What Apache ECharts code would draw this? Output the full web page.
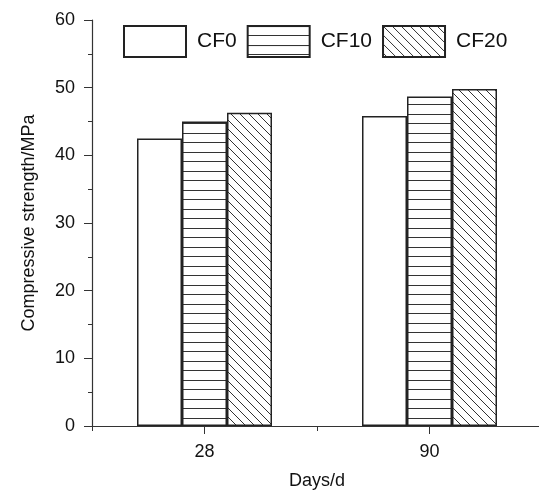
<!DOCTYPE html>
<html>
<head>
<meta charset="utf-8">
<script src="https://cdn.jsdelivr.net/npm/echarts@6/dist/echarts.min.js"></script>
<style>
  html, body { margin: 0; padding: 0; background: #fff; }
  #chart { width: 539px; height: 490px; }
</style>
</head>
<body>
<div id="chart"></div>
<script>
var categories = ['28', '90']
var seriesNames = ['CF0', 'CF10', 'CF20']
var cf0 = [42.5, 45.8]
var cf10 = [45.0, 48.7]
var cf20 = [46.3, 49.8]
var yTicks = [0, 10, 20, 30, 40, 50, 60]

// fill patterns
function lineTile() {
  var c = document.createElement('canvas')
  c.width = 10
  c.height = 19
  var ctx = c.getContext('2d')
  ctx.fillStyle = '#fff'
  ctx.fillRect(0, 0, 10, 19)
  ctx.strokeStyle = '#333'
  ctx.lineWidth = 1
  ctx.beginPath()
  ctx.moveTo(0, 0.5); ctx.lineTo(10, 0.5)
  ctx.moveTo(0, 9.5); ctx.lineTo(10, 9.5)
  ctx.stroke()
  return c
}
function hatchTile() {
  var s = 9
  var c = document.createElement('canvas')
  c.width = s
  c.height = s
  var ctx = c.getContext('2d')
  ctx.fillStyle = '#fff'
  ctx.fillRect(0, 0, s, s)
  ctx.strokeStyle = '#333'
  ctx.lineWidth = 1
  ctx.beginPath()
  ctx.moveTo(-1, -1); ctx.lineTo(s + 1, s + 1)
  ctx.moveTo(-1, s - 1); ctx.lineTo(1, s + 1)
  ctx.moveTo(s - 1, -1); ctx.lineTo(s + 1, 1)
  ctx.stroke()
  return c
}

var fills = [
  '#fff',
  { image: lineTile(), repeat: 'repeat' },
  { image: hatchTile(), repeat: 'repeat' }
]
var values = [cf0, cf10, cf20]

var chart = echarts.init(document.getElementById('chart'))
var textColor = '#111'
var font = 'Liberation Sans'
var option = {
  backgroundColor: '#fff',
  animation: false,
  legend: {
    left: 118,
    top: 20,
    itemWidth: 62,
    itemHeight: 31,
    itemGap: 10,
    icon: 'rect',
    textStyle: { fontSize: 21, color: textColor, fontFamily: font, padding: [0, 0, 0, 6] },
    data: seriesNames
  },
  grid: { left: 92, top: 20, width: 450, bottom: 64, outerBoundsMode: 'none', containLabel: false },
  xAxis: [
    {
      type: 'category',
      data: categories,
      position: 'bottom',
      name: 'Days/d',
      nameLocation: 'middle',
      nameGap: 46,
      nameTextStyle: { fontSize: 18, color: textColor, fontFamily: font },
      axisLine: { lineStyle: { color: '#333', width: 1.2 } },
      axisTick: { show: true, alignWithLabel: false, length: 5, lineStyle: { color: '#333' } },
      axisLabel: { fontSize: 18, color: textColor, fontFamily: font, margin: 17 },
      splitLine: { show: false }
    },
    {
      type: 'category',
      data: categories,
      position: 'bottom',
      axisLine: { show: false },
      axisTick: { show: true, alignWithLabel: true, length: 8, lineStyle: { color: '#333' } },
      axisLabel: { show: false },
      splitLine: { show: false }
    }
  ],
  yAxis: {
    type: 'value',
    min: yTicks[0],
    max: yTicks[yTicks.length - 1],
    interval: 10,
    name: 'Compressive strength/MPa',
    nameLocation: 'middle',
    nameGap: 54,
    nameTextStyle: { fontSize: 18, color: textColor, fontFamily: font },
    axisLine: { show: true, lineStyle: { color: '#333', width: 1.2 } },
    axisTick: { show: true, length: 8, lineStyle: { color: '#333' } },
    minorTick: { show: true, splitNumber: 2, length: 4, lineStyle: { color: '#333' } },
    axisLabel: { fontSize: 18, color: textColor, fontFamily: font, margin: 17 },
    splitLine: { show: false }
  },
  series: seriesNames.map(function (name, i) {
    return {
      name: name,
      type: 'bar',
      data: values[i],
      barWidth: 45,
      barGap: '0%',
      itemStyle: { color: fills[i], borderColor: '#222', borderWidth: 1.5 }
    }
  })
}
chart.setOption(option)
</script>
</body>
</html>
